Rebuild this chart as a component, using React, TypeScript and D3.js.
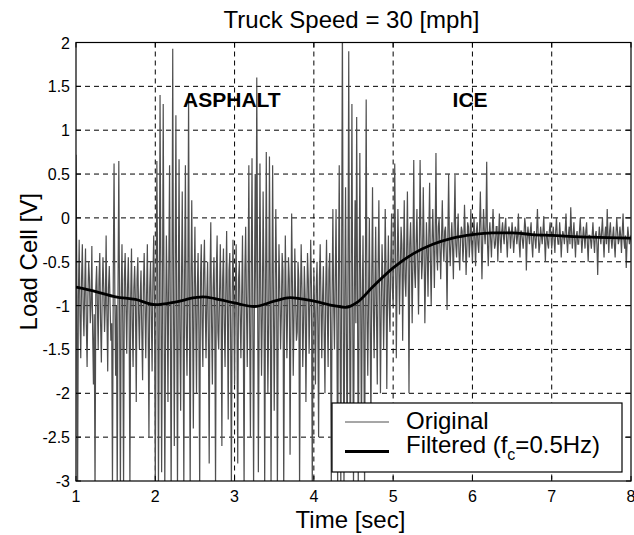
import React from "react";
import * as d3 from "d3";

// ---- Data ----
const title = "Truck Speed = 30 [mph]";
const xLabel = "Time [sec]";
const yLabel = "Load Cell [V]";
const xTicks = [1, 2, 3, 4, 5, 6, 7, 8];
const yTicks = [2, 1.5, 1, 0.5, 0, -0.5, -1, -1.5, -2, -2.5, -3];
const yTickLabels = ["2", "1.5", "1", "0.5", "0", "-0.5", "-1", "-1.5", "-2", "-2.5", "-3"];

// Original signal sampled every 0.01 s from 1.00 s to 8.00 s
const sampleStart = 1.0;
const sampleStep = 0.01;
const originalValues = [
  // 1.00 - 1.49
  0.72, -0.6, -3.2, -0.9, -0.25, -1.1, -1.6, -0.7, -0.3, -1.0, -1.35, -0.8, -0.35, -1.2, -1.7, -0.9, -0.5, -0.7, -1.2, -1.0, -0.32, -1.3, -1.9, -1.1, -3.2, -0.8, -0.55, -1.0, -1.5, -0.7, -0.4, -1.2, -1.65, -0.9, -0.45, -0.8, -1.3, -1.0, -0.2, -1.1, -1.75, -0.8, -0.55, -1.0, -1.4, -1.2, -3.1, -0.7, 0.62, -0.9,
  // 1.50 - 1.99
  -1.8, -1.0, -3.2, -0.8, 0.65, -1.1, -3.2, -0.9, -0.3, -1.2, -3.1, -0.7, -0.4, -1.0, -1.55, -0.8, -0.45, -1.1, -3.1, -0.9, -0.35, -1.2, -1.7, -0.8, -0.55, -1.0, -2.1, -0.7, -0.45, -1.1, -1.5, -0.9, -0.6, -1.3, -1.85, -0.8, -0.4, -1.0, -1.6, -0.9, -0.3, -1.2, -2.5, -0.8, -0.5, -1.1, -1.75, -0.7, -0.2, -1.0,
  // 2.00 - 2.49
  -3.1, -1.0, 0.65, -0.7, -3.1, -1.2, 1.4, -0.6, -2.9, -1.1, 1.3, -0.8, -3.1, -1.3, -0.2, -0.9, -2.1, -0.6, 0.6, -1.2, -3.2, -0.8, 1.93, -1.0, -2.6, -0.7, 1.17, -1.1, -3.1, -0.9, 0.67, -1.3, -2.2, -0.8, 0.3, -1.0, -3.1, -0.6, 0.6, -1.2, -1.8, -0.9, 1.42, -1.1, -3.1, -0.7, 0.2, -1.0, -2.4, -0.8,
  // 2.50 - 2.99
  -0.1, -1.1, -2.0, -0.8, -0.4, -1.3, -3.1, -0.7, -0.3, -1.2, -1.7, -0.6, -0.25, -1.0, -1.6, -0.9, -0.5, -1.4, -2.8, -0.7, -0.05, -1.2, -1.9, -0.8, -0.45, -1.1, -3.1, -0.6, -0.2, -1.3, -1.5, -0.9, -0.3, -1.0, -2.6, -0.7, -0.35, -1.2, -1.7, -0.8, -0.15, -1.1, -2.3, -0.6, -0.4, -1.3, -3.1, -0.9, -0.25, -1.0,
  // 3.00 - 3.49
  -1.9, -0.8, -0.3, -1.2, -2.8, -0.7, -0.5, -1.1, -1.6, -0.9, -0.2, -1.3, -3.1, -0.6, -0.1, -1.0, -1.7, -0.8, 0.6, -1.2, -2.5, -0.7, 0.68, -1.1, -3.1, -0.9, 0.5, -1.0, 1.6, -0.6, -2.9, -1.2, 0.62, -0.8, -1.8, -1.1, 0.3, -0.7, -3.1, -1.0, 0.75, -0.9, -2.0, -1.2, 0.7, -0.8, -3.1, -1.1, 0.6, -0.9,
  // 3.50 - 3.99
  -2.2, -1.0, 0.1, -0.7, -3.1, -1.2, -0.3, -0.8, -1.5, -1.1, -0.4, -0.6, -3.1, -1.3, -0.2, -0.9, -1.6, -1.0, -0.45, -0.7, -2.7, -1.2, 0.05, -0.8, -1.8, -1.1, -0.35, -0.9, -1.4, -1.3, -0.5, -0.7, -3.1, -1.0, -0.3, -0.8, -1.7, -1.2, -0.55, -0.9, -2.1, -1.1, -0.4, -0.7, -1.55, -1.0, -0.25, -0.8, -3.1, -1.2,
  // 4.00 - 4.49
  -0.6, -1.1, -1.9, -0.8, -0.5, -1.2, -2.5, -0.7, -0.3, -1.0, -1.6, -0.9, -0.55, -1.3, -2.0, -0.8, -0.25, -1.1, -1.7, -0.6, -0.4, -1.2, -3.1, -0.9, 0.1, -1.0, -1.5, -0.7, 0.1, -1.2, -3.1, -0.8, 0.6, -1.1, -3.1, -0.6, 2.3, -1.0, -3.1, -0.9, 0.35, -1.3, -2.8, -0.7, 1.9, -1.1, -2.9, -0.8, 1.3, -1.0,
  // 4.50 - 4.99
  -3.1, -0.9, 0.2, -1.2, 1.15, -0.7, -3.1, -1.1, 0.74, -0.8, -2.6, -1.0, -0.2, -1.3, -3.1, -0.6, 1.35, -1.1, -1.8, -0.9, 0.0, -1.2, -2.4, -0.7, 0.35, -1.0, -1.6, -0.8, -0.1, -1.1, -1.9, -0.6, 0.2, -0.9, -2.0, -1.0, -0.3, -0.7, -1.5, -0.9, 0.1, -0.6, -1.95, -0.8, -0.2, -1.0, -1.3, -0.5, 0.05, -0.8,
  // 5.00 - 5.49
  -1.0, -0.5, 0.62, -0.3, -1.6, -0.7, 0.1, -0.4, -1.1, -0.6, -0.1, -0.3, -1.4, -0.5, 0.2, -0.7, -0.9, -0.4, 0.3, -0.6, -2.0, -0.3, -0.05, -0.5, -1.2, -0.4, 0.66, -0.6, -0.8, -0.3, 0.1, -0.5, -1.1, -0.4, 0.66, -0.2, -0.7, -0.5, 0.35, -0.3, -1.2, -0.6, -0.05, -0.4, -0.9, -0.2, 0.4, -0.5, -1.0, -0.3,
  // 5.50 - 5.99
  0.1, -0.3, -0.8, -0.2, 0.74, -0.4, -0.6, -0.1, 0.0, -0.35, -0.7, -0.25, 0.2, -0.3, -0.5, -0.15, -0.1, -0.4, -1.05, -0.2, 0.5, -0.3, -0.55, -0.25, -0.05, -0.35, -0.7, -0.1, 0.49, -0.3, -0.45, -0.2, 0.05, -0.4, -0.6, -0.25, -0.1, -0.15, -0.5, -0.3, 0.15, -0.2, -0.65, -0.35, -0.05, -0.1, -0.45, -0.25, 0.1, -0.3,
  // 6.00 - 6.49
  -0.5, -0.2, 0.0, -0.25, -0.55, -0.15, -0.05, -0.3, -0.4, -0.1, 0.3, -0.2, -0.7, -0.25, 0.1, -0.15, -0.3, -0.1, 0.64, -0.3, -0.55, -0.2, -0.05, -0.25, -0.45, -0.15, 0.1, -0.2, -0.35, -0.3, -0.1, -0.1, -0.5, -0.2, 0.05, -0.25, -0.4, -0.15, -0.05, -0.2, -0.3, -0.1, 0.0, -0.25, -0.45, -0.2, -0.1, -0.15, -0.35, -0.2,
  // 6.50 - 6.99
  -0.05, -0.2, -0.4, -0.25, -0.1, -0.15, -0.3, -0.2, 0.05, -0.3, -0.45, -0.15, -0.15, -0.25, -0.35, -0.2, 0.0, -0.1, -0.6, -0.25, -0.1, -0.2, -0.3, -0.15, -0.05, -0.3, -0.45, -0.2, -0.15, -0.25, -0.35, -0.15, 0.1, -0.2, -0.4, -0.3, -0.1, -0.2, -0.3, -0.15, 0.02, -0.25, -0.5, -0.2, -0.15, -0.3, -0.35, -0.15, -0.05, -0.2,
  // 7.00 - 7.49
  -0.35, -0.2, -0.1, -0.25, -0.4, -0.15, 0.0, -0.2, -0.3, -0.3, -0.05, -0.2, -0.45, -0.25, -0.15, -0.2, -0.3, -0.15, 0.05, -0.25, -0.4, -0.2, -0.1, -0.3, 0.12, -0.15, -0.35, -0.2, -0.05, -0.25, -0.45, -0.2, -0.15, -0.3, -0.3, -0.15, 0.0, -0.2, -0.4, -0.25, -0.1, -0.2, -0.35, -0.15, -0.05, -0.3, -0.5, -0.2, -0.2, -0.25,
  // 7.50 - 8.00
  -0.35, -0.2, -0.05, -0.25, -0.4, -0.2, -0.15, -0.3, -0.65, -0.25, -0.1, -0.2, -0.3, -0.15, 0.0, -0.25, -0.45, -0.2, -0.1, -0.3, 0.1, -0.2, -0.4, -0.15, -0.05, -0.25, -0.35, -0.2, -0.1, -0.3, -0.45, -0.2, 0.0, -0.15, -0.3, -0.25, -0.1, -0.2, -0.4, -0.15, 0.05, -0.25, -0.35, -0.2, -0.57, -0.3, -0.1, -0.2, -0.3, -0.25, -0.2,
];

const filteredTime = [1.0, 1.25, 1.5, 1.75, 2.0, 2.25, 2.5, 2.6, 2.75, 3.0, 3.25, 3.5, 3.7, 4.0, 4.25, 4.4, 4.55, 4.75, 5.0, 5.25, 5.5, 5.75, 6.0, 6.25, 6.5, 6.75, 7.0, 7.5, 8.0];
const filteredValues = [-0.79, -0.84, -0.9, -0.93, -0.99, -0.96, -0.91, -0.9, -0.92, -0.97, -1.01, -0.95, -0.91, -0.95, -1.0, -1.02, -0.96, -0.78, -0.57, -0.41, -0.3, -0.23, -0.19, -0.17, -0.17, -0.19, -0.2, -0.22, -0.23];

const annotations = [
  { text: "ASPHALT", t: 2.35, v: 1.27 },
  { text: "ICE", t: 5.75, v: 1.27 },
];
const legendItems = ["Original", "Filtered"];

export default function App() {
  const W = 634, H = 535;
  const left = 76, right = 631, top = 42.5, bottom = 481;
  const x = d3.scaleLinear().domain([1, 8]).range([left, right]);
  const y = d3.scaleLinear().domain([-3, 2]).range([bottom, top]);

  const origPts: [number, number][] = originalValues.map((v, i) => [sampleStart + i * sampleStep, v]);
  const filtPts: [number, number][] = filteredTime.map((t, i) => [t, filteredValues[i]]);
  const line = d3.line<[number, number]>().x((d) => x(d[0])).y((d) => y(d[1]));
  const smooth = d3.line<[number, number]>().x((d) => x(d[0])).y((d) => y(d[1])).curve(d3.curveMonotoneX);

  const font = "'Liberation Sans', Arial, Helvetica, sans-serif";
  const dash = "5,4";
  const gridX = xTicks.filter((t) => t > 1 && t < 8);
  const gridY = yTicks.filter((t) => t > -3 && t < 2);

  const lg = { x0: 332, y0: 403, x1: 622, y1: 472 };

  return (
    <div style={{ position: "absolute", left: 0, top: 0 }}>
      <svg width={W} height={H} style={{ display: "block", background: "#fff" }} fontFamily={font}>
        <defs>
          <clipPath id="plotClip">
            <rect x={left} y={top} width={right - left} height={bottom - top} />
          </clipPath>
        </defs>
        <rect x={0} y={0} width={W} height={H} fill="#fff" />
        {/* grid */}
        <g stroke="#000" strokeWidth={1} strokeDasharray={dash}>
          {gridX.map((t) => (
            <line key={"gx" + t} x1={x(t)} x2={x(t)} y1={top} y2={bottom} />
          ))}
          {gridY.map((t) => (
            <line key={"gy" + t} x1={left} x2={right} y1={y(t)} y2={y(t)} />
          ))}
        </g>
        {/* data */}
        <g clipPath="url(#plotClip)">
          <path d={line(origPts) || ""} fill="none" stroke="#4f4f4f" strokeWidth={1.2} />
          <path d={smooth(filtPts) || ""} fill="none" stroke="#000" strokeWidth={2.8} strokeLinejoin="round" />
        </g>
        {/* frame */}
        <rect x={left} y={top} width={right - left} height={bottom - top} fill="none" stroke="#000" strokeWidth={1.2} />
        {/* ticks */}
        <g stroke="#000" strokeWidth={1}>
          {xTicks.map((t) => (
            <g key={"xt" + t}>
              <line x1={x(t)} x2={x(t)} y1={bottom} y2={bottom - 5} />
              <line x1={x(t)} x2={x(t)} y1={top} y2={top + 5} />
            </g>
          ))}
          {yTicks.map((t) => (
            <g key={"yt" + t}>
              <line x1={left} x2={left + 5} y1={y(t)} y2={y(t)} />
              <line x1={right} x2={right - 5} y1={y(t)} y2={y(t)} />
            </g>
          ))}
        </g>
        {/* tick labels */}
        <g fontSize={16} fill="#000">
          {xTicks.map((t) => (
            <text key={"xl" + t} x={x(t)} y={bottom + 21} textAnchor="middle">
              {t}
            </text>
          ))}
          {yTicks.map((t, i) => (
            <text key={"yl" + t} x={left - 6} y={y(t) + 6} textAnchor="end">
              {yTickLabels[i]}
            </text>
          ))}
        </g>
        {/* annotations */}
        {annotations.map((a) => (
          <text key={a.text} x={x(a.t)} y={y(a.v)} fontSize={21} fontWeight="bold" textAnchor="start" fill="#000">
            {a.text}
          </text>
        ))}
        {/* titles */}
        <text x={351.5} y={28} fontSize={24} textAnchor="middle" fill="#000">
          {title}
        </text>
        <text x={350.5} y={528} fontSize={24} textAnchor="middle" fill="#000">
          {xLabel}
        </text>
        <text transform={`translate(37,${(top + bottom) / 2}) rotate(-90)`} fontSize={24} textAnchor="middle" fill="#000">
          {yLabel}
        </text>
        {/* legend */}
        <g>
          <rect x={lg.x0} y={lg.y0} width={lg.x1 - lg.x0} height={lg.y1 - lg.y0} fill="#fff" stroke="#000" strokeWidth={1.2} />
          <line x1={345} x2={389} y1={422} y2={422} stroke="#4f4f4f" strokeWidth={1} />
          <line x1={345} x2={389} y1={451.5} y2={451.5} stroke="#000" strokeWidth={2.8} />
          <text x={406} y={428.5} fontSize={24} fill="#000">{legendItems[0]}</text>
          <text x={406} y={453} fontSize={24} fill="#000">
            {legendItems[1]} (f
            <tspan fontSize={16} dy={7}>c</tspan>
            <tspan dy={-7}>=0.5Hz)</tspan>
          </text>
        </g>
      </svg>
    </div>
  );
}
